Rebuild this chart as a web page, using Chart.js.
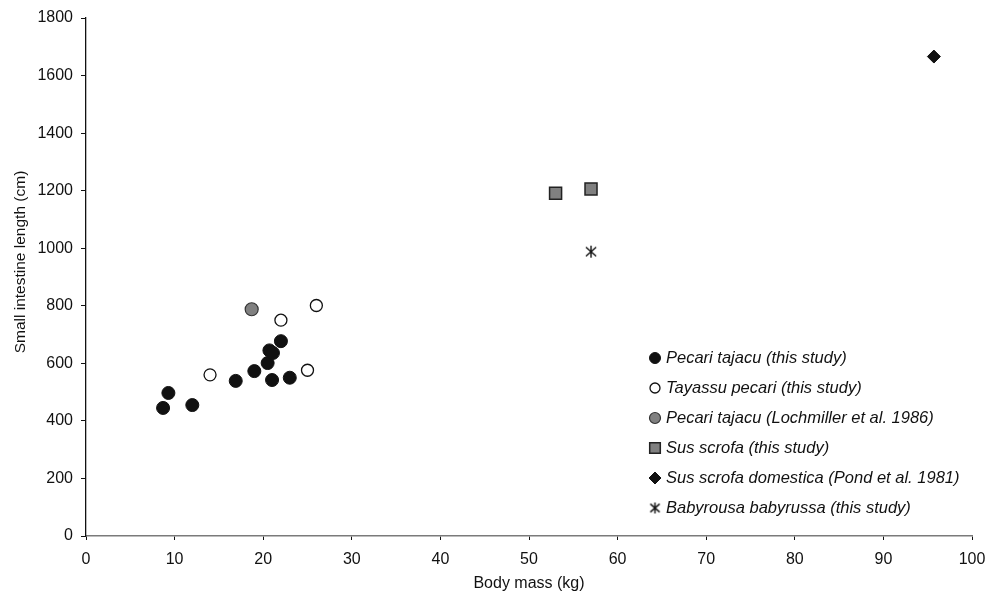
<!DOCTYPE html>
<html>
<head>
<meta charset="utf-8">
<script src="https://cdn.jsdelivr.net/npm/chart.js@4.4.1/dist/chart.umd.min.js"></script>
<style>
html,body{margin:0;padding:0;background:#fff;}
#wrap{width:998px;height:598px;position:relative;}
</style>
</head>
<body>
<div id="wrap"><canvas id="c" width="998" height="598"></canvas></div>
<script>
// ---- Data ----
const seriesLabels = [
  'Pecari tajacu (this study)',
  'Tayassu pecari (this study)',
  'Pecari tajacu (Lochmiller et al. 1986)',
  'Sus scrofa (this study)',
  'Sus scrofa domestica (Pond et al. 1981)',
  'Babyrousa babyrussa (this study)'
];
const pecariMass = [8.7, 9.3, 12.0, 16.9, 19.0, 21.0, 23.0, 20.5, 20.7, 21.1, 22.0];
const pecariLen  = [445, 497, 455, 539, 573, 542, 550, 601, 645, 636, 677];
const tayassuMass = [14.0, 22.0, 26.0, 25.0];
const tayassuLen  = [560, 750, 801, 576];
const lochMass = [18.7];
const lochLen  = [788];
const susMass = [53.0, 57.0];
const susLen  = [1191, 1206];
const domMass = [95.7];
const domLen  = [1666];
const babyMass = [57.0];
const babyLen  = [988];
const xTicks = [0,10,20,30,40,50,60,70,80,90,100];
const yTicks = [0,200,400,600,800,1000,1200,1400,1600,1800];
const xTitle = 'Body mass (kg)';
const yTitle = 'Small intestine length (cm)';

function pts(xs, ys){ return xs.map((x,i)=>({x:x, y:ys[i]})); }

// asterisk marker image
function makeAsterisk(size){
  const cv = document.createElement('canvas');
  cv.width = size; cv.height = size;
  const g = cv.getContext('2d');
  g.strokeStyle = '#111'; g.lineWidth = 1.4;
  const c = size/2, r = size/2 - 1;
  g.beginPath();
  g.moveTo(c, c - r); g.lineTo(c, c + r);
  g.moveTo(c - r*0.85, c - r*0.75); g.lineTo(c + r*0.85, c + r*0.75);
  g.moveTo(c + r*0.85, c - r*0.75); g.lineTo(c - r*0.85, c + r*0.75);
  g.stroke();
  return cv;
}
const asteriskBig = makeAsterisk(14);
const asteriskSmall = makeAsterisk(13);

const datasets = [
  {label: seriesLabels[0], data: pts(pecariMass, pecariLen), pointStyle:'circle', radius:6.5,
   backgroundColor:'#111', borderColor:'#111', borderWidth:1, legendRadius:5.5},
  {label: seriesLabels[1], data: pts(tayassuMass, tayassuLen), pointStyle:'circle', radius:6,
   backgroundColor:'#fff', borderColor:'#111', borderWidth:1.3, legendRadius:5},
  {label: seriesLabels[2], data: pts(lochMass, lochLen), pointStyle:'circle', radius:6.5,
   backgroundColor:'#808080', borderColor:'#333', borderWidth:1.2, legendRadius:5.5},
  {label: seriesLabels[3], data: pts(susMass, susLen), pointStyle:'rect', radius:8.5,
   backgroundColor:'#808080', borderColor:'#222', borderWidth:1.5, legendRadius:7.5},
  {label: seriesLabels[4], data: pts(domMass, domLen), pointStyle:'rectRot', radius:6.5,
   backgroundColor:'#111', borderColor:'#111', borderWidth:1, legendRadius:6},
  {label: seriesLabels[5], data: pts(babyMass, babyLen), pointStyle:asteriskBig, radius:7,
   backgroundColor:'#111', borderColor:'#111', borderWidth:1, legendImage: asteriskSmall, legendRadius:6}
];
datasets.forEach(d=>{ d.pointRadius = d.radius; d.pointHoverRadius = d.radius; d.showLine=false; });

const legendPlugin = {
  id:'customLegend',
  afterDraw(chart){
    const ctx = chart.ctx;
    const x0 = 655, y0 = 358, dy = 30;
    ctx.save();
    chart.data.datasets.forEach((d,i)=>{
      const y = y0 + i*dy;
      if(d.legendImage){
        Chart.helpers.drawPoint(ctx, { pointStyle: d.legendImage, radius: d.legendRadius, rotation: 0, borderWidth: 1 }, x0, y);
      } else {
        ctx.fillStyle = d.backgroundColor;
        ctx.strokeStyle = d.borderColor;
        ctx.lineWidth = d.borderWidth;
        ctx.beginPath();
        if(d.pointStyle==='circle'){ ctx.arc(x0, y, d.legendRadius, 0, Math.PI*2); }
        else if(d.pointStyle==='rect'){ const s=d.legendRadius*Math.SQRT1_2*2; ctx.rect(x0-s/2, y-s/2, s, s); }
        else if(d.pointStyle==='rectRot'){ const r=d.legendRadius; ctx.moveTo(x0, y-r); ctx.lineTo(x0+r, y); ctx.lineTo(x0, y+r); ctx.lineTo(x0-r, y); ctx.closePath(); }
        ctx.fill(); ctx.stroke();
      }
      ctx.fillStyle = '#111';
      ctx.font = 'italic 16.5px "Liberation Sans", Arial, sans-serif';
      ctx.textBaseline = 'middle';
      ctx.textAlign = 'left';
      ctx.fillText(d.label, 666, y + 0.5);
    });
    // y axis title (placed slightly above centre, as in the reference)
    ctx.translate(21, 262);
    ctx.rotate(-Math.PI/2);
    ctx.font = '15.5px "Liberation Sans", Arial, sans-serif';
    ctx.textAlign = 'center';
    ctx.textBaseline = 'middle';
    ctx.fillText(yTitle, 0, 0);
    ctx.restore();
  }
};

Chart.defaults.font.family = '"Liberation Sans", Arial, sans-serif';
Chart.defaults.color = '#111';

new Chart(document.getElementById('c'), {
  type: 'scatter',
  data: { datasets: datasets },
  options: {
    responsive: false,
    animation: false,
    events: [],
    layout: { padding: { top: 18, right: 26, left: 0, bottom: 0 } },
    plugins: { legend: { display:false }, tooltip: { enabled:false } },
    scales: {
      x: {
        type:'linear', min:0, max:100,
        afterBuildTicks(s){ s.ticks = xTicks.map(v=>({value:v})); },
        afterFit(s){ s.height = 62; },
        border: { display:true, color:'#7a7a7a', width:1.5 },
        grid: { display:true, drawOnChartArea:false, drawTicks:true, tickLength:4, color:'#111', lineWidth:1 },
        ticks: { padding: 10, font:{ size:16 }, color:'#111', maxRotation:0, callback:(v)=>String(v) },
        title: { display:true, text:xTitle, font:{ size:16 }, color:'#111', padding:{top:5, bottom:5} }
      },
      y: {
        type:'linear', min:0, max:1800,
        afterBuildTicks(s){ s.ticks = yTicks.map(v=>({value:v})); },
        afterFit(s){ s.width = 86; },
        border: { display:true, color:'#111', width:1.3 },
        grid: { display:true, drawOnChartArea:false, drawTicks:true, tickLength:5, color:'#111', lineWidth:1 },
        ticks: { padding: 8, font:{ size:16 }, color:'#111', callback:(v)=>String(v) },
        title: { display:false, text:yTitle }
      }
    }
  },
  plugins: [legendPlugin]
});
</script>
</body>
</html>
